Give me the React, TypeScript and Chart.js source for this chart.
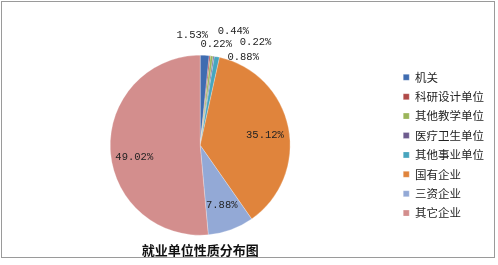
import React, { useEffect, useRef } from "react";
import { Chart, registerables } from "chart.js";

Chart.register(...registerables);

const categories = ["机关", "科研设计单位", "其他教学单位", "医疗卫生单位", "其他事业单位", "国有企业", "三资企业", "其它企业"];
const percentages = [1.53, 0.22, 0.44, 0.22, 0.88, 35.12, 7.88, 49.02];
const labelTexts = percentages.map((v) => v.toFixed(2) + "%");
const sliceColors = ["#3F6CB0", "#B04A48", "#9BB55A", "#6E5C8E", "#48A5BE", "#E0843C", "#93A9D6", "#D38E8D"];
const chartTitle = "就业单位性质分布图";

// label placement style: "out" = outside the pie, "in" = inside, plus pixel nudges
const labelModes = ["out", "out", "out", "out", "out", "in", "in", "in"];
const labelNudges: [number, number][] = [[-13, -8], [5, 0], [20, -13], [40, -2], [24, 12], [3, 2], [0, 1], [-3, 9]];

const labelPlugin = {
  id: "sliceLabels",
  afterDatasetsDraw(chart: any) {
    const ctx = chart.ctx;
    const meta = chart.getDatasetMeta(0);
    ctx.save();
    ctx.font = '10.5px "Liberation Mono"';
    ctx.fillStyle = "#222";
    ctx.textAlign = "center";
    ctx.textBaseline = "middle";
    meta.data.forEach((arc: any, i: number) => {
      const p = arc.getProps(["x", "y", "startAngle", "endAngle", "outerRadius"], true);
      const mid = (p.startAngle + p.endAngle) / 2;
      const r = labelModes[i] === "out" ? p.outerRadius + 12 : p.outerRadius * 0.7;
      const [dx, dy] = labelNudges[i];
      ctx.fillText(labelTexts[i], p.x + Math.cos(mid) * r + dx, p.y + Math.sin(mid) * r + dy);
    });
    ctx.restore();
  },
};

const frameStyle: React.CSSProperties = {
  position: "fixed",
  left: 0,
  top: 0,
  width: 498,
  height: 265,
  background: "#fff",
};

export default function App() {
  const ref = useRef<HTMLCanvasElement | null>(null);
  useEffect(() => {
    if (!ref.current) return;
    const chart = new Chart(ref.current, {
      type: "pie",
      data: {
        labels: categories,
        datasets: [
          {
            data: percentages,
            backgroundColor: sliceColors,
            borderColor: "rgba(255,255,255,0.5)",
            borderWidth: 0.5,
          },
        ],
      },
      options: {
        animation: false,
        responsive: false,
        layout: { padding: { left: 5, right: 4, top: 55, bottom: 0 } },
        plugins: {
          legend: {
            position: "right",
            fullSize: false,
            labels: {
              boxWidth: 6,
              boxHeight: 6,
              padding: 7.9,
              color: "#222",
              font: { size: 11.5, family: '"Noto Sans CJK SC", sans-serif' },
            },
          },
          title: {
            display: true,
            text: chartTitle,
            position: "bottom",
            fullSize: false,
            color: "#111",
            font: { size: 13, weight: "bold", family: '"Noto Sans CJK SC", sans-serif' },
            padding: { top: 7, bottom: 7 },
          },
          tooltip: { enabled: false },
        },
      },
      plugins: [labelPlugin],
    });
    return () => chart.destroy();
  }, []);
  return (
    <div style={frameStyle}>
      <canvas ref={ref} width={498} height={265} style={{ position: "absolute", left: 0, top: 0 }} />
      <div
        style={{
          position: "absolute",
          left: 1,
          top: 1,
          width: 494,
          height: 257,
          border: "1px solid #9a9a9a",
          boxSizing: "border-box",
          pointerEvents: "none",
        }}
      />
    </div>
  );
}
